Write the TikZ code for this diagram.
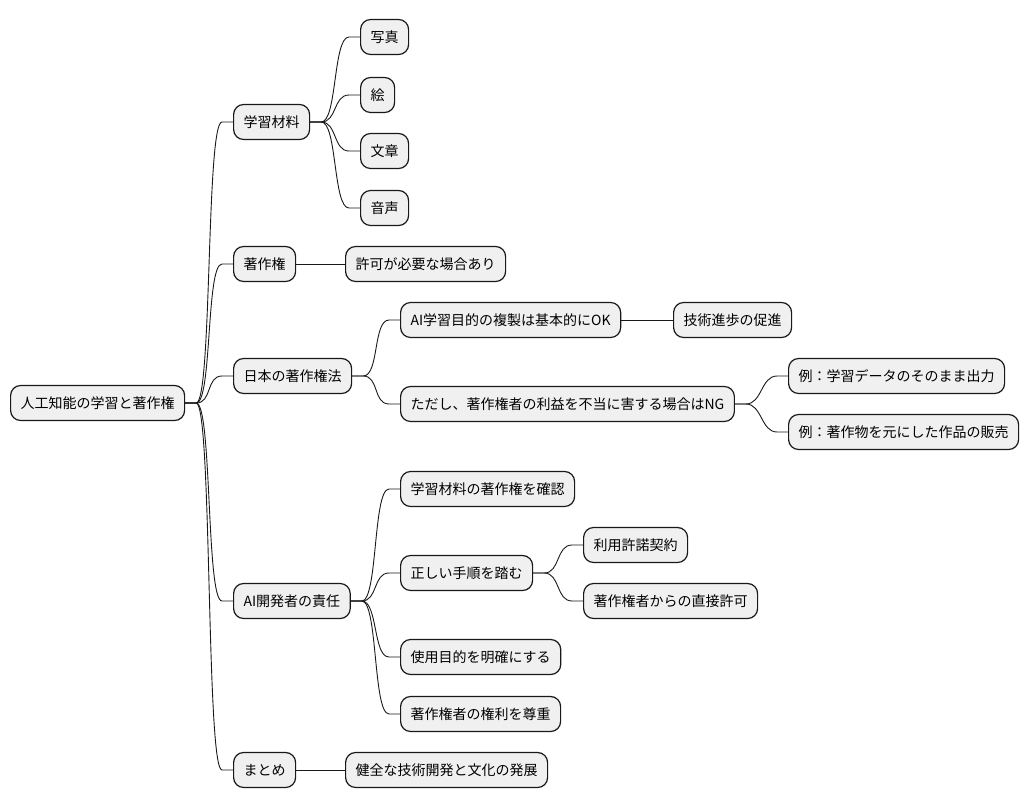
\documentclass[tikz,border=0pt]{standalone}
\usepackage{fontspec}
\setmainfont{Noto Sans CJK JP}
\usetikzlibrary{positioning}

\tikzset{
  box/.style={draw=black!90,line width=1.2pt,fill=black!6,rounded corners=10pt,
    anchor=west,minimum height=35pt,inner xsep=10pt,inner ysep=0pt,
    font=\fontsize{14}{16}\selectfont},
  conn/.style={draw=black!90,line width=0.9pt}
}

\begin{document}
\begin{tikzpicture}[x=1pt,y=-1pt]
		\useasboundingbox (0,0) rectangle (1028,809);
		% root and first level
		\node[box] (root) at (10,403) {人工知能の学習と著作権};
		\node[box] (mat) at (233,122) {学習材料};
		\node[box] (cr) at (233,264) {著作権};
		\node[box] (law) at (233,376) {日本の著作権法};
		\node[box] (dev) at (233,601) {AI開発者の責任};
		\node[box] (sum) at (233,770) {まとめ};
		% materials
		\node[box] (photo) at (360,37) {写真};
		\node[box] (pict) at (360,95) {絵};
		\node[box] (text) at (360,151) {文章};
		\node[box] (voice) at (360,208) {音声};
		\node[box] (perm) at (345,264) {許可が必要な場合あり};
		% law
		\node[box] (ok) at (400,320) {AI学習目的の複製は基本的にOK};
		\node[box] (prog) at (673,320) {技術進歩の促進};
		\node[box] (ng) at (400,404) {ただし、著作権者の利益を不当に害する場合はNG};
		\node[box] (ex1) at (788,376) {例：学習データのそのまま出力};
		\node[box] (ex2) at (788,432) {例：著作物を元にした作品の販売};
		% developer
		\node[box] (chk) at (400,489) {学習材料の著作権を確認};
		\node[box] (proc) at (400,573) {正しい手順を踏む};
		\node[box] (lic) at (583,545) {利用許諾契約};
		\node[box] (direct) at (583,601) {著作権者からの直接許可};
		\node[box] (purp) at (400,657) {使用目的を明確にする};
		\node[box] (resp) at (400,714) {著作権者の権利を尊重};
		\node[box] (good) at (345,770) {健全な技術開発と文化の発展};
		% branches
		\foreach \p/\c in {root/mat,root/cr,root/law,root/dev,root/sum,
		  mat/photo,mat/pict,mat/text,mat/voice,law/ok,law/ng,
		  ng/ex1,ng/ex2,dev/chk,dev/proc,dev/purp,dev/resp,proc/lic,proc/direct}
		\draw[conn] (\p.east) -- ++(11,0) .. controls +(16,0) and +(-16,0) .. ([xshift=-11pt]\c.west) -- (\c.west);
		\foreach \p/\c in {cr/perm,ok/prog,sum/good}
		\draw[conn] (\p) -- (\c);
\end{tikzpicture}
\end{document}
